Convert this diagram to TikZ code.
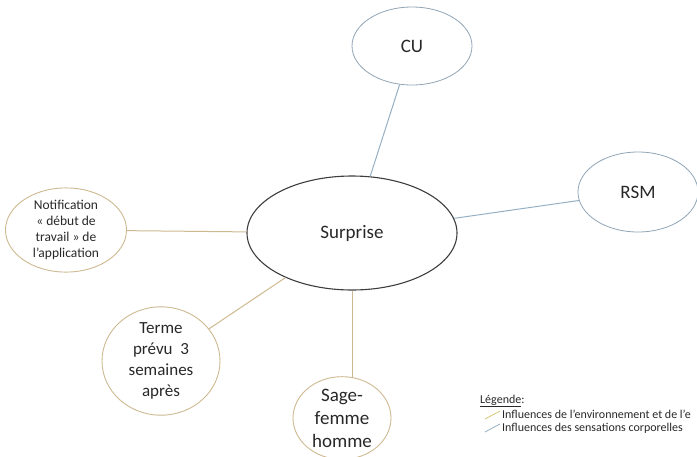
\documentclass[tikz,border=0pt]{standalone}
\usepackage{fontspec}
\setmainfont{Carlito}
\usetikzlibrary{shapes.geometric}
\definecolor{envcol}{RGB}{205,185,145}
\definecolor{bodycol}{RGB}{150,175,195}
\definecolor{inkcol}{RGB}{40,40,40}
\tikzset{
  bubble/.style={ellipse, inner sep=0pt, align=center, text=inkcol},
  envbubble/.style={bubble, draw=envcol, line width=0.9pt},
  bodybubble/.style={bubble, draw=bodycol!80!gray, line width=0.8pt},
  envline/.style={draw=envcol, line width=1pt},
  bodyline/.style={draw=bodycol, line width=1pt},
}
\begin{document}
\begin{tikzpicture}[x=1pt,y=-1pt]
\useasboundingbox (0,0) rectangle (697,456);
\clip (0,0) rectangle (697,456);
\node[bubble, draw=inkcol!90, line width=1.1pt, minimum width=210pt, minimum height=114pt, font=\fontsize{19}{23}\selectfont] (surprise) at (352,233) {Surprise};
\node[bodybubble, minimum width=120pt, minimum height=78pt, font=\fontsize{19}{23}\selectfont] (cu) at (412,46) {CU};
\node[bodybubble, minimum width=120pt, minimum height=80pt, font=\fontsize{19}{23}\selectfont] (rsm) at (638,192) {RSM};
\node[envbubble, minimum width=121pt, minimum height=80pt, font=\fontsize{13.5}{16}\selectfont] (notif) at (66,230) {Notification\\« début de\\travail » de\\l’application};
\node[envbubble, minimum width=118pt, minimum height=78pt, font=\fontsize{17}{21}\selectfont] (terme) at (161,361) {Terme\\prévu~ 3\\semaines\\après};
\node[envbubble, minimum width=98pt, minimum height=80pt, font=\fontsize{19}{23}\selectfont] (sage) at (342,418) {Sage-\\femme\\homme};
\coordinate (sagetop) at (surprise.south |- sage.north);
\draw[bodyline] (cu) -- (surprise);
\draw[bodyline] (surprise) -- (rsm);
\draw[envline] (notif) -- (surprise);
\draw[envline] (terme) -- (surprise);
\draw[envline] (surprise.south) -- ([yshift=-1pt]sagetop);
% legend
\node[anchor=base west, inner sep=0pt, font=\fontsize{12}{15}\selectfont, text=inkcol] (leg) at (480,403) {\underline{Légende}:};
\coordinate (l1a) at (485,419);
\coordinate (l1b) at (500,411);
\coordinate (l2a) at (485,432);
\coordinate (l2b) at (500,424);
\draw[envline, line width=0.8pt, draw=envcol!80!yellow] (l1a) -- (l1b);
\draw[bodyline, line width=0.8pt] (l2a) -- (l2b);
\node[anchor=base west, inner sep=0pt, font=\fontsize{12}{15}\selectfont, text=inkcol] (li1) at (502,418) {Influences de l’environnement et de l’e};
\node[anchor=base west, inner sep=0pt, font=\fontsize{12}{15}\selectfont, text=inkcol] (li2) at (502,431) {Influences des sensations corporelles};
\end{tikzpicture}
\end{document}
